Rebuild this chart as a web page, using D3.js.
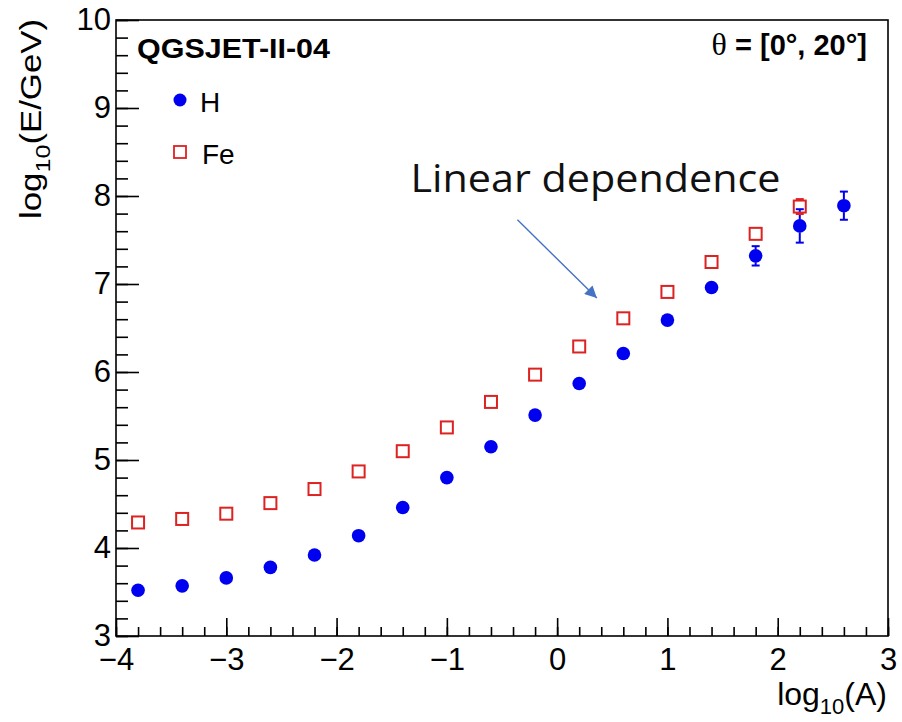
<!DOCTYPE html>
<html>
<head>
<meta charset="utf-8">
<script src="https://cdn.jsdelivr.net/npm/d3@7"></script>
<style>
  body { margin: 0; background: #fff; }
  svg { font-family: "Liberation Sans", Arial, Helvetica, sans-serif; }
</style>
</head>
<body>
<div id="chart"></div>
<script>

// log10(A) bin centres
var logA = [-3.8, -3.4, -3.0, -2.6, -2.2, -1.8, -1.4, -1.0, -0.6, -0.2, 0.2, 0.6, 1.0, 1.4, 1.8, 2.2, 2.6];

// H (proton) showers
var hVals = [3.52, 3.57, 3.66, 3.78, 3.92, 4.14, 4.46, 4.80, 5.15, 5.51, 5.87, 6.21, 6.59, 6.96, 7.32, 7.66, 7.89];
var hErr  = [0.02, 0.02, 0.02, 0.02, 0.02, 0.02, 0.02, 0.02, 0.02, 0.03, 0.03, 0.03, 0.04, 0.05, 0.11, 0.19, 0.16];

// Fe showers
var feVals = [4.29, 4.33, 4.39, 4.51, 4.67, 4.87, 5.10, 5.37, 5.66, 5.97, 6.29, 6.61, 6.91, 7.25, 7.57, 7.88];
var feErr  = [0.01, 0.01, 0.01, 0.01, 0.01, 0.02, 0.02, 0.02, 0.02, 0.02, 0.03, 0.03, 0.04, 0.05, 0.076, 0.085];

var xTicks = [-4, -3, -2, -1, 0, 1, 2, 3];
var yTicks = [3, 4, 5, 6, 7, 8, 9, 10];

var blue = "#0000f0", red = "#dd2222";

var svg = d3.select("#chart").append("svg")
  .attr("width", 902)
  .attr("height", 722);

var x = d3.scaleLinear().domain([-4, 3]).range([116, 888]);
var y = d3.scaleLinear().domain([3, 10]).range([636, 20]);

// frame
svg.append("rect")
  .attr("x", x(-4)).attr("y", y(10))
  .attr("width", x(3) - x(-4)).attr("height", y(3) - y(10))
  .attr("fill", "none").attr("stroke", "#000").attr("stroke-width", 1.6);

// minor ticks (inside)
svg.append("g")
  .attr("transform", "translate(0," + y(3) + ")")
  .call(d3.axisBottom(x).ticks(35).tickSizeInner(-9).tickSizeOuter(0).tickFormat(""))
  .call(function(g) { g.select(".domain").remove(); });
svg.append("g")
  .attr("transform", "translate(" + x(-4) + ",0)")
  .call(d3.axisLeft(y).ticks(35).tickSizeInner(-12).tickSizeOuter(0).tickFormat(""))
  .call(function(g) { g.select(".domain").remove(); });

// major ticks + labels
var xAxis = svg.append("g")
  .attr("transform", "translate(0," + y(3) + ")")
  .call(d3.axisBottom(x).tickValues(xTicks).tickFormat(d3.format("d"))
    .tickSizeInner(-18).tickSizeOuter(0).tickPadding(12));
var yAxis = svg.append("g")
  .attr("transform", "translate(" + x(-4) + ",0)")
  .call(d3.axisLeft(y).tickValues(yTicks).tickFormat(d3.format("d"))
    .tickSizeInner(-23).tickSizeOuter(0).tickPadding(5));

svg.selectAll(".tick line").attr("stroke", "#000").attr("stroke-width", 1.6);
svg.selectAll(".domain").remove();
xAxis.selectAll("text").attr("fill", "#000")
  .style("font-size", "31px").style("font-family", "Liberation Sans, Arial, sans-serif");
yAxis.selectAll("text").attr("fill", "#000")
  .style("font-size", "31px").style("font-family", "Liberation Sans, Arial, sans-serif");

// axis titles
var xt = svg.append("text")
  .attr("x", 887).attr("y", 705)
  .attr("text-anchor", "end")
  .style("font-size", "32px");
xt.append("tspan").text("log");
xt.append("tspan").style("font-size", "22px").attr("dy", 9).text("10");
xt.append("tspan").attr("dy", -9).text("(A)");

var yt = svg.append("text")
  .attr("transform", "translate(41,19) rotate(-90)")
  .attr("text-anchor", "end")
  .style("font-size", "29px")
  .attr("textLength", 200)
  .attr("lengthAdjust", "spacingAndGlyphs");
yt.append("tspan").text("log");
yt.append("tspan").style("font-size", "21px").attr("dy", 9).text("10");
yt.append("tspan").attr("dy", -9).text("(E/GeV)");

// error bars (drawn only outside the marker, with caps)
function errBars(vals, errs, color, half) {
  var data = vals.map(function(v, i) { return {x: logA[i], v: v, e: errs[i]}; })
    .filter(function(d) { return y(d.v - d.e) - y(d.v) > half + 1; });
  var g = svg.append("g").attr("stroke", color).attr("stroke-width", 2);
  data.forEach(function(d) {
    var cx = x(d.x), cy = y(d.v), top = y(d.v + d.e), bot = y(d.v - d.e);
    g.append("line").attr("x1", cx).attr("x2", cx).attr("y1", top).attr("y2", cy - half);
    g.append("line").attr("x1", cx).attr("x2", cx).attr("y1", cy + half).attr("y2", bot);
    g.append("line").attr("x1", cx - 4).attr("x2", cx + 4).attr("y1", top).attr("y2", top);
    g.append("line").attr("x1", cx - 4).attr("x2", cx + 4).attr("y1", bot).attr("y2", bot);
  });
}
errBars(hVals, hErr, blue, 6.5);
errBars(feVals, feErr, red, 6);

// Fe markers: open squares
svg.append("g").selectAll("rect")
  .data(feVals)
  .enter().append("rect")
  .attr("x", function(d, i) { return x(logA[i]) - 6; })
  .attr("y", function(d) { return y(d) - 6; })
  .attr("width", 12).attr("height", 12)
  .attr("fill", "none").attr("stroke", red).attr("stroke-width", 2);

// H markers: filled circles
svg.append("g").selectAll("circle")
  .data(hVals)
  .enter().append("circle")
  .attr("cx", function(d, i) { return x(logA[i]); })
  .attr("cy", function(d) { return y(d); })
  .attr("r", 6.8)
  .attr("fill", blue);

// labels
svg.append("text")
  .attr("x", 137).attr("y", 58)
  .style("font-size", "28px").style("font-weight", "bold")
  .attr("textLength", 193).attr("lengthAdjust", "spacingAndGlyphs")
  .text("QGSJET-II-04");

var th = svg.append("text")
  .attr("x", 867).attr("y", 55)
  .attr("text-anchor", "end")
  .style("font-size", "29px").style("font-weight", "bold");
th.append("tspan").style("font-family", "Liberation Serif, Times New Roman, serif")
  .style("font-weight", "normal").style("font-size", "32px").text("\u03b8");
th.append("tspan").text(" = [0\u00b0, 20\u00b0]");

// legend
svg.append("circle").attr("cx", 180).attr("cy", 100).attr("r", 6.5).attr("fill", blue);
svg.append("text").attr("x", 200).attr("y", 112).style("font-size", "28px").text("H");
svg.append("rect").attr("x", 174).attr("y", 146).attr("width", 12).attr("height", 12)
  .attr("fill", "none").attr("stroke", red).attr("stroke-width", 1.8);
svg.append("text").attr("x", 202).attr("y", 164).style("font-size", "28px").text("Fe");

// annotation
svg.append("defs").append("marker")
  .attr("id", "ah")
  .attr("viewBox", "0 0 10 10")
  .attr("refX", 10).attr("refY", 5)
  .attr("markerWidth", 14).attr("markerHeight", 12)
  .attr("markerUnits", "userSpaceOnUse")
  .attr("orient", "auto")
  .append("path").attr("d", "M0,0 L10,5 L0,10 Z").attr("fill", "#4472c4");

svg.append("line")
  .attr("x1", x(-0.36)).attr("y1", y(7.73))
  .attr("x2", x(0.36)).attr("y2", y(6.84))
  .attr("stroke", "#4472c4").attr("stroke-width", 1.4)
  .attr("marker-end", "url(#ah)");

svg.append("text")
  .attr("x", x(-1.33)).attr("y", y(8.05))
  .style("font-family", "'Open Sans', Lato, sans-serif")
  .style("font-size", "38px")
  .attr("textLength", 370).attr("lengthAdjust", "spacingAndGlyphs")
  .attr("fill", "#111")
  .text("Linear dependence");

</script>
</body>
</html>
